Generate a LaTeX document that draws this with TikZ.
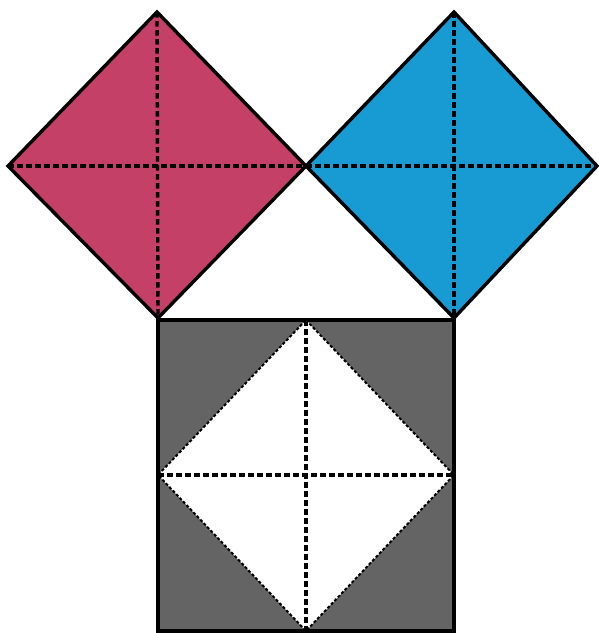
\documentclass[tikz,border=0pt]{standalone}
\definecolor{rosered}{RGB}{196,64,102}
\definecolor{skyblue}{RGB}{24,155,210}
\definecolor{slategray}{RGB}{100,100,100}
\tikzset{
  outline/.style={draw=black, line width=3.4pt, line join=miter},
  diag/.style={draw=black, line width=3.4pt, dash pattern=on 5.5pt off 3.5pt},
  rim/.style={draw=black, line width=2pt, dash pattern=on 3pt off 2pt}
}
\begin{document}
\begin{tikzpicture}[x=1pt,y=-1pt]
\useasboundingbox (0,0) rectangle (599,633);
% red square
\coordinate (rT) at (157,12);
\coordinate (rL) at (8,166);
\coordinate (rR) at (306,166);
\coordinate (rB) at (158,318);
% blue square
\coordinate (bT) at (454,12);
\coordinate (bL) at (306,166);
\coordinate (bR) at (597,166);
\coordinate (bB) at (454,318);
% gray square
\coordinate (gTL) at (158,320);
\coordinate (gTR) at (454,320);
\coordinate (gBR) at (454,631);
\coordinate (gBL) at (158,631);
% inner diamond
\coordinate (wT) at (306,320);
\coordinate (wL) at (158,475);
\coordinate (wR) at (454,475);
\coordinate (wB) at (306,631);

\fill[rosered] (rT) -- (rR) -- (rB) -- (rL) -- cycle;
\draw[diag] (rT) -- (rB);
\draw[diag] (rL) -- (rR);
\draw[outline] (rT) -- (rR) -- (rB) -- (rL) -- cycle;

\fill[skyblue] (bT) -- (bR) -- (bB) -- (bL) -- cycle;
\draw[diag] (bT) -- (bB);
\draw[diag] (bL) -- (bR);
\draw[outline] (bT) -- (bR) -- (bB) -- (bL) -- cycle;

\fill[slategray] (gTL) -- (gTR) -- (gBR) -- (gBL) -- cycle;
\fill[white] (wT) -- (wR) -- (wB) -- (wL) -- cycle;
\draw[rim] (wT) -- (wR) -- (wB) -- (wL) -- cycle;
\draw[diag] (wT) -- (wB);
\draw[diag] (wL) -- (wR);
\draw[outline] (gTL) -- (gTR) -- (gBR) -- (gBL) -- cycle;
\end{tikzpicture}
\end{document}
